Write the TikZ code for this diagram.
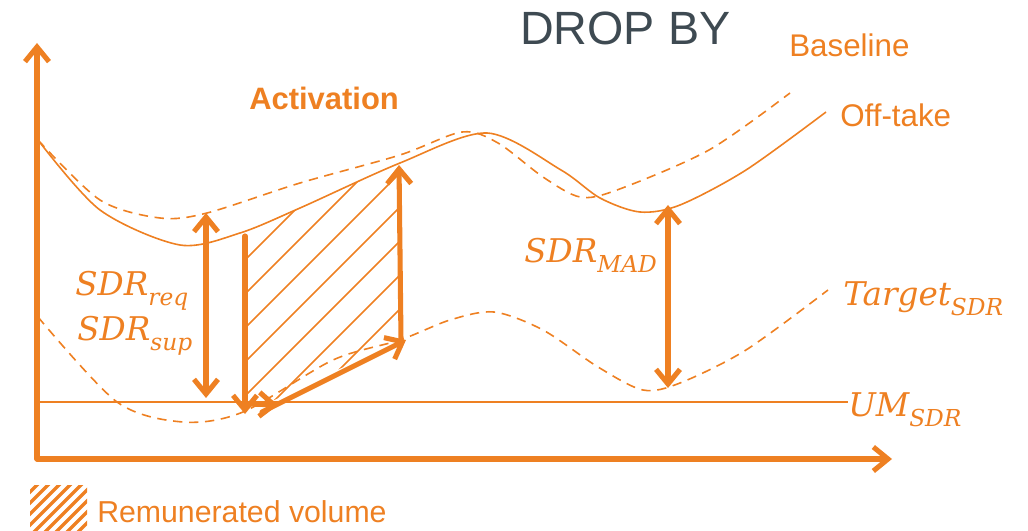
\documentclass[tikz,border=0pt]{standalone}
\usepackage{fontspec}
\setmainfont{Liberation Sans}
\newfontfamily\mfont{DejaVu Serif}
\usetikzlibrary{arrows.meta}
\definecolor{org}{RGB}{238,128,34}
\definecolor{drk}{RGB}{62,74,82}
\newcommand{\mlab}[2]{{\mfont\itshape\fontsize{24.5}{28}\selectfont #1\raisebox{-0.32em}{\fontsize{17.5}{18}\selectfont #2}}}
\begin{document}
\begin{tikzpicture}[x=0.75pt,y=-0.75pt,
  curve/.style={org, line width=1.2pt},
  dcurve/.style={curve, dash pattern=on 7pt off 5pt},
  thick line/.style={org, line width=3.8pt, line cap=round},
  tipend/.style={-{Straight Barb[length=11pt,width=18pt]}},
  tipboth/.style={{Straight Barb[length=11pt,width=18pt]}-{Straight Barb[length=11pt,width=18pt]}},
  lbl/.style={org, inner sep=0pt, anchor=base west},
  mlbl/.style={org, inner sep=0pt, anchor=base west},
  hatchline/.style={org, line width=1.1pt}
]
\useasboundingbox (0,0) rectangle (1028,531);

% named points
\coordinate (O) at (37,459);
\coordinate (Ytop) at (37,43);
\coordinate (Xend) at (892,459);
\coordinate (UMl) at (37,402);
\coordinate (UMr) at (848,402);
\coordinate (reqT) at (206,213);
\coordinate (reqB) at (206,398);
\coordinate (vlT) at (245,236);
\coordinate (vlB) at (245,414);
\coordinate (shS) at (249,404);
\coordinate (shE) at (278,405);
\coordinate (rampS) at (262,412);
\coordinate (rampE) at (406,340);
\coordinate (vrB) at (401,340);
\coordinate (vrT) at (399,165);
\coordinate (madT) at (668,205);
\coordinate (madB) at (668,388);

% hatching
\begin{scope}
  \clip (247,150) -- (398,150) -- (398,341) -- (247,413) -- cycle;
  \clip plot[smooth] coordinates {(38,140) (100,210) (180,245) (240,233) (300,208) (400,163) (487,133) (561,170)} -- (561,600) -- (38,600) -- cycle;
  \foreach \c in {505,539,573,607,641,675,709,743} {
    \draw[hatchline] (150,\c-150) -- (450,\c-450);
  }
\end{scope}

% curves
\draw[curve] plot[smooth] coordinates {(38,140) (100,210) (180,245) (240,233) (300,208) (400,163) (487,133) (561,170) (600,198) (640,212) (680,205) (746,170) (826,112)};
\draw[dcurve] plot[smooth] coordinates {(38,140) (100,200) (160,218) (207,213) (300,183) (400,155) (462,132) (498,143) (543,177) (580,197) (617,190) (709,150) (790,93)};
\draw[dcurve] plot[smooth] coordinates {(38,317) (117,402) (183,422) (243,412) (333,360) (400,340) (450,320) (494,312) (543,330) (598,367) (643,390) (680,383) (746,350) (828,290)};

% UM line
\draw[org, line width=1.5pt] (UMl) -- (UMr);

% axes
\draw[thick line, tipend] (O) -- (Ytop);
\draw[thick line, tipend] (O) -- (Xend);

% arrows
\draw[thick line, tipboth] (reqB) -- (reqT);
\draw[thick line, tipend] (vlT) -- (vlB);
\draw[thick line, tipend] (shS) -- (shE);
\draw[thick line, tipend] (rampS) -- (rampE);
\draw[thick line, tipend] (vrB) -- (vrT);
\draw[thick line, tipboth] (madB) -- (madT);

% texts
\node[inner sep=0pt, anchor=base west, text=drk, font=\fontsize{35}{40}\selectfont] (title) at (520,45) {DROP BY};
\node[lbl, font=\fontsize{23.5}{28}\selectfont] (baseline) at (789,57) {Baseline};
\node[lbl, font=\fontsize{23.5}{28}\selectfont] (offtake) at (840,127) {Off-take};
\node[lbl, font=\fontsize{23.2}{28}\selectfont\bfseries] (activation) at (249,110) {Activation};
\node[lbl, font=\fontsize{22.7}{28}\selectfont] (remun) at (97,522) {Remunerated volume};

\node[mlbl] (sdrreq) at (75,295) {\mlab{SDR}{req}};
\node[mlbl] (sdrsup) at (77,340) {\mlab{SDR}{sup}};
\node[mlbl] (sdrmad) at (524,262) {\mlab{SDR}{MAD}};
\node[mlbl] (target) at (843,305) {\mlab{Target}{SDR}};
\node[mlbl] (umsdr) at (848,416) {\mlab{UM}{SDR}};

% legend swatch
\begin{scope}
  \clip (30,485) rectangle (87,530);
  \foreach \c in {500,511,522,533,544,555,566,577,588,599,610,621,632} {
    \draw[org, line width=2.6pt] (0,\c) -- (120,\c-120);
  }
\end{scope}
\node[inner sep=0pt, minimum width=57*0.75pt, minimum height=45*0.75pt, anchor=north west] (swatch) at (30,485) {};
\end{tikzpicture}
\end{document}
